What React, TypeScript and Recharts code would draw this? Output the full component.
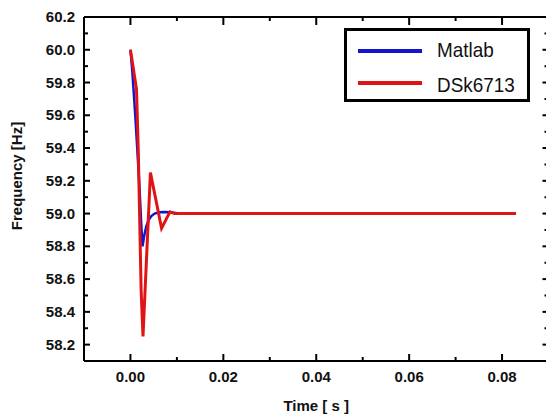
import React from 'react';
import { LineChart, Line, XAxis, YAxis, Legend, ReferenceLine } from 'recharts';

// ---- data ----
const matlabTime = [0, 0.0004, 0.0011, 0.0016, 0.002, 0.0023, 0.0026, 0.003, 0.0034, 0.0039, 0.0045, 0.0052, 0.0062, 0.0075, 0.009, 0.0105, 0.0125, 0.083];
const matlabFreq = [60.0, 59.87, 59.57, 59.33, 59.13, 58.95, 58.8, 58.87, 58.92, 58.96, 58.985, 59.0, 59.008, 59.01, 59.006, 59.0, 59.0, 59.0];
const dspTime = [0, 0.0013, 0.0017, 0.0023, 0.0027, 0.0043, 0.0067, 0.0085, 0.0095, 0.083];
const dspFreq = [60.0, 59.76, 59.37, 58.53, 58.25, 59.25, 58.91, 59.01, 59.0, 59.0];
const seriesNames = ['Matlab', 'DSk6713'];

const xTicks = [0, 0.01, 0.02, 0.03, 0.04, 0.05, 0.06, 0.07, 0.08];
const xMajor = [0, 0.02, 0.04, 0.06, 0.08];
const yTicks = [58.2, 58.3, 58.4, 58.5, 58.6, 58.7, 58.8, 58.9, 59.0, 59.1, 59.2, 59.3, 59.4, 59.5, 59.6, 59.7, 59.8, 59.9, 60.0, 60.1, 60.2];
const yMajor = [58.2, 58.4, 58.6, 58.8, 59.0, 59.2, 59.4, 59.6, 59.8, 60.0, 60.2];
const xDomain = [-0.01, 0.09];
const yDomain = [58.1, 60.2];

const matlabData = matlabTime.map((t, i) => ({ t, f: matlabFreq[i] }));
const dspData = dspTime.map((t, i) => ({ t, f: dspFreq[i] }));

// plot size in px (for converting tick-mark lengths to axis units)
const PLOT_W = 464.5;
const PLOT_H = 345;
const xPerPx = (xDomain[1] - xDomain[0]) / PLOT_W;
const yPerPx = (yDomain[1] - yDomain[0]) / PLOT_H;

const FONT = '"Liberation Sans", Arial, Helvetica, sans-serif';
const isMajorX = (v: number) => xMajor.some((m) => Math.abs(m - v) < 1e-9);
const isMajorY = (v: number) => yMajor.some((m) => Math.abs(m - v) < 1e-9);

const RightMark = (props: any) => {
  const { x, y, payload } = props;
  return <line x1={x} x2={x - (isMajorY(payload.value) ? 6 : 4)} y1={y} y2={y} stroke="#000" strokeWidth={2} />;
};

const BottomLabel = (props: any) => {
  const { x, y, payload } = props;
  return (
    <text x={x} y={y + 21} textAnchor="middle" fontFamily={FONT} fontWeight="bold" fontSize={15} fill="#111">
      {Number(payload.value).toFixed(2)}
    </text>
  );
};
const LeftLabel = (props: any) => {
  const { x, y, payload } = props;
  return (
    <text x={x} y={y + 5} textAnchor="end" fontFamily={FONT} fontWeight="bold" fontSize={15} fill="#111">
      {Number(payload.value).toFixed(1)}
    </text>
  );
};

const XLabel = (props: any) => {
  const vb = props.viewBox;
  return (
    <text x={vb.x + vb.width / 2} y={vb.y + 50} textAnchor="middle" fontFamily={FONT} fontWeight="bold" fontSize={15} fill="#111">
      Time [ s ]
    </text>
  );
};

const YLabel = () => (
  <text x={22} y={176} transform="rotate(-90 22 176)" textAnchor="middle" fontFamily={FONT} fontWeight="bold" fontSize={15} fill="#111">
    Frequency [Hz]
  </text>
);

const LegendBox = (props: any) => {
  const items = (props.payload || [])
    .filter((it: any) => seriesNames.indexOf(it.value) >= 0)
    .sort((a: any, b: any) => seriesNames.indexOf(a.value) - seriesNames.indexOf(b.value));
  return (
    <svg width={187} height={75} style={{ display: 'block' }}>
      <rect x={1.5} y={1.5} width={183} height={71} fill="#fff" stroke="#000" strokeWidth={3} />
      {items.map((it: any, i: number) => (
        <g key={i}>
          <line x1={14} x2={78} y1={23 + i * 32} y2={23 + i * 32} stroke={it.color} strokeWidth={4} />
          <text transform={`translate(93 ${29 + i * 35}) scale(0.9 1)`} fontFamily={FONT} fontSize={21} fill="#111">
            {it.value}
          </text>
        </g>
      ))}
    </svg>
  );
};

const axisLine = { stroke: '#000', strokeWidth: 2 };

// inward tick marks on left, bottom and top edges, drawn through the axes' scales
const tickMarks: any[] = [];
yTicks.forEach((v, i) => {
  const len = (isMajorY(v) ? 6 : 4) * xPerPx;
  tickMarks.push(
    <ReferenceLine key={'l' + i} xAxisId="xb" yAxisId="yb" ifOverflow="visible" stroke="#000" strokeWidth={2}
      segment={[{ x: xDomain[0], y: v }, { x: xDomain[0] + len, y: v }]} />
  );
});
xTicks.forEach((v, i) => {
  const lenB = (isMajorX(v) ? 7 : 4) * yPerPx;
  const lenT = (isMajorX(v) ? 8 : 4) * yPerPx;
  tickMarks.push(
    <ReferenceLine key={'b' + i} xAxisId="xb" yAxisId="yb" ifOverflow="visible" stroke="#000" strokeWidth={2}
      segment={[{ x: v, y: yDomain[0] }, { x: v, y: yDomain[0] + lenB }]} />
  );
  tickMarks.push(
    <ReferenceLine key={'t' + i} xAxisId="xb" yAxisId="yb" ifOverflow="visible" stroke="#000" strokeWidth={2}
      segment={[{ x: v, y: yDomain[1] }, { x: v, y: yDomain[1] - lenT }]} />
  );
});

export default function App() {
  return (
    <div style={{ position: 'fixed', left: 0, top: 0, width: 546, height: 416, overflow: 'hidden', background: '#fff' }}>
      <LineChart width={560} height={416} margin={{ top: 16, right: 10.5, bottom: 0, left: 0 }}>
        <XAxis xAxisId="xb" type="number" dataKey="t" domain={xDomain} ticks={xMajor} allowDataOverflow height={55}
          tickSize={0} tickMargin={0} tickLine={false} axisLine={axisLine} tick={<BottomLabel />} interval={0} label={<XLabel />} />
        <XAxis xAxisId="t" orientation="top" type="number" dataKey="t" domain={xDomain} ticks={xTicks} allowDataOverflow height={1}
          tickSize={0} tickMargin={0} tickLine={false} axisLine={axisLine} tick={false} interval={0} />
        <YAxis yAxisId="yb" type="number" domain={yDomain} ticks={yMajor} allowDataOverflow width={84}
          tickSize={0} tickMargin={9} tickLine={false} axisLine={axisLine} tick={<LeftLabel />} interval={0} label={<YLabel />} />
        <YAxis yAxisId="r" orientation="right" type="number" domain={yDomain} ticks={yTicks} allowDataOverflow width={1}
          tickSize={0} tickMargin={0} tickLine={false} axisLine={axisLine} tick={<RightMark />} interval={0} />
        <Legend layout="horizontal" verticalAlign="middle" align="center" content={<LegendBox />}
          wrapperStyle={{ position: 'absolute', left: 344, top: 28, width: 187, height: 75 }} />
        {tickMarks}
        <Line xAxisId="t" yAxisId="r" data={dspData} dataKey="f" name="frame1" legendType="none" stroke="none" dot={false} activeDot={false} isAnimationActive={false} />
        <Line xAxisId="xb" yAxisId="yb" data={matlabData} dataKey="f" name="Matlab" type="linear" stroke="#1414c8" strokeWidth={2.5} dot={false} isAnimationActive={false} />
        <Line xAxisId="xb" yAxisId="yb" data={dspData} dataKey="f" name="DSk6713" type="linear" stroke="#e01414" strokeWidth={3} dot={false} isAnimationActive={false} />
      </LineChart>
    </div>
  );
}
